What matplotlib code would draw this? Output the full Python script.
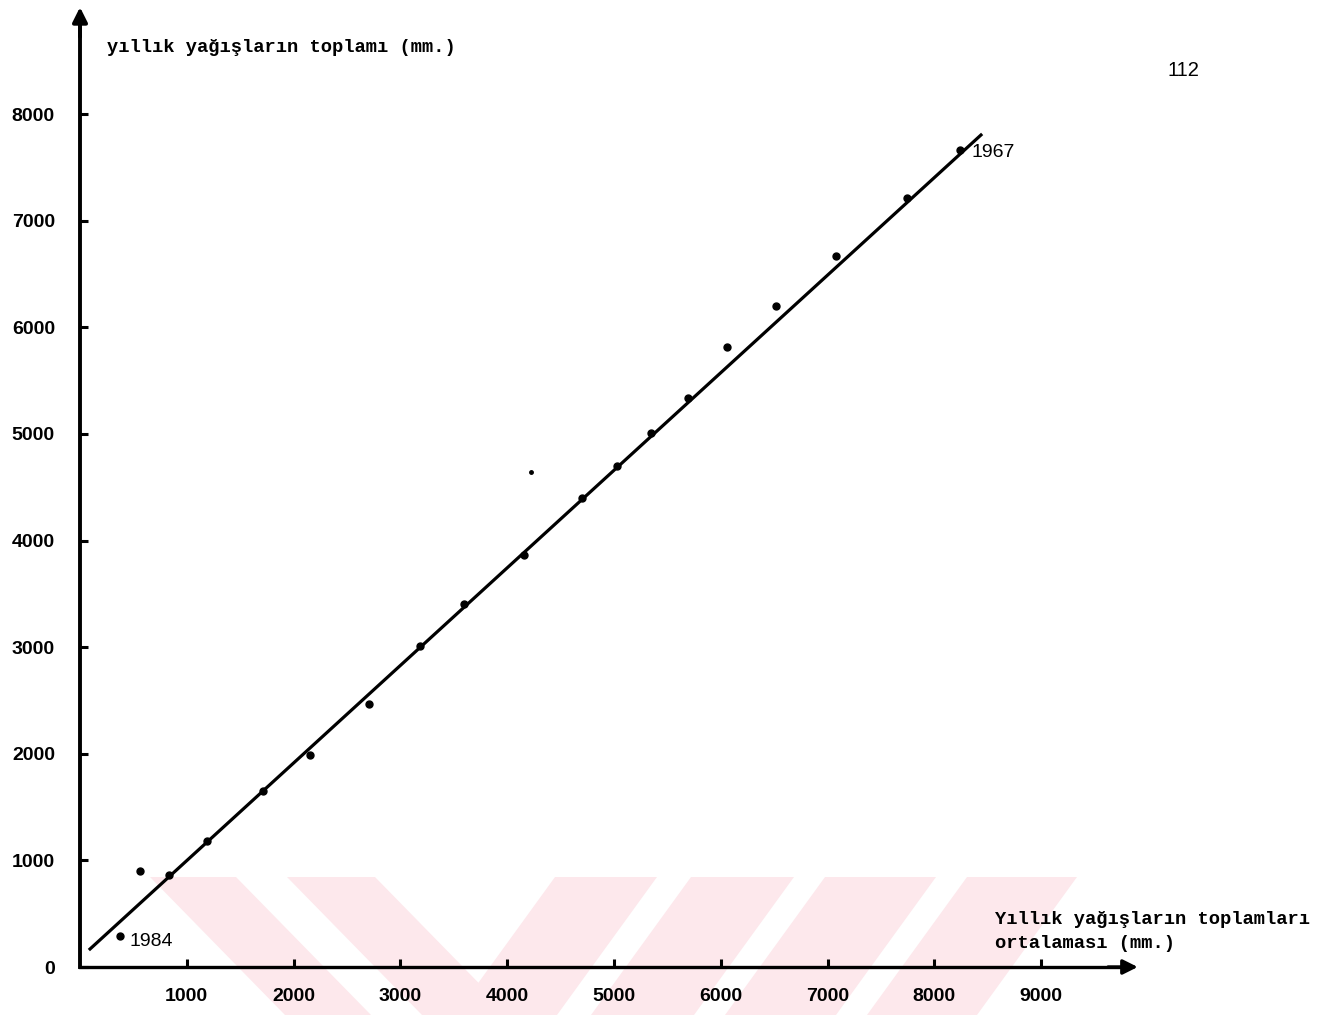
import matplotlib
matplotlib.use('Agg')
import matplotlib.pyplot as plt
from matplotlib.patches import Polygon

# average of annual totals (mm) vs. annual totals (mm)
ortalama = [375, 562, 833, 1189, 1713, 2154, 2706, 3184, 3596, 4157,
            4700, 5028, 5346, 5693, 6058, 6517, 7079, 7743, 8240]
toplam = [291, 901, 863, 1182, 1651, 1989, 2467, 3011, 3405, 3865,
          4400, 4700, 5009, 5338, 5816, 6201, 6670, 7214, 7664]
# small stray dot above the line
stray_x = [4223]
stray_y = [4644]
# fitted straight line (end points)
fit_x = [94, 8436]
fit_y = [169, 7805]
# labelled years
year_labels = ['1984', '1967']
year_idx = [0, -1]

x_ticks = [1000, 2000, 3000, 4000, 5000, 6000, 7000, 8000, 9000]
y_ticks = [0, 1000, 2000, 3000, 4000, 5000, 6000, 7000, 8000]

W, H = 1326, 1015
fig = plt.figure(figsize=(W / 100, H / 100), dpi=100)

# watermark stripes in pixel space (background)
bg = fig.add_axes([0, 0, 1, 1], zorder=0)
bg.set_xlim(0, W)
bg.set_ylim(H, 0)
bg.axis('off')
pink = '#fde8ec'
top, bot = 877, 1015
for a, b in [(150, 236), (287, 375)]:
    sh = 135
    bg.add_patch(Polygon([(a, top), (b, top), (b + sh, bot), (a + sh, bot)],
                         closed=True, color=pink, lw=0))
for a, b in [(555, 657), (691, 794), (825, 936), (967, 1077)]:
    sh = 100
    bg.add_patch(Polygon([(a, top), (b, top), (b - sh, bot), (a - sh, bot)],
                         closed=True, color=pink, lw=0))

# main axes: x=0 at px 80, y=0 at px 967
x0, y0 = 80, 967
px_x, px_y = 0.1068, 0.1066  # pixels per mm
ax = fig.add_axes([x0 / W, (H - y0) / H, (W - x0) / W, y0 / H], zorder=1)
ax.patch.set_alpha(0)
ax.set_xlim(0, (W - x0) / px_x)
ax.set_ylim(0, y0 / px_y)

for s in ['top', 'right']:
    ax.spines[s].set_visible(False)
ax.spines['left'].set_linewidth(2.8)
ax.spines['bottom'].set_linewidth(2.4)
ax.spines['left'].set_bounds(0, 8880)
ax.spines['bottom'].set_bounds(0, 9750)

ax.annotate('', xy=(0, 9030), xytext=(0, 8700),
            arrowprops=dict(arrowstyle='-|>', color='black', lw=2.8, mutation_scale=22),
            annotation_clip=False)
ax.annotate('', xy=(9930, 0), xytext=(9600, 0),
            arrowprops=dict(arrowstyle='-|>', color='black', lw=2.4, mutation_scale=22),
            annotation_clip=False)

ax.set_xticks(x_ticks)
ax.set_xticklabels([str(v) for v in x_ticks])
ax.set_yticks(y_ticks)
ax.set_yticklabels([str(v) for v in y_ticks])
ax.tick_params(axis='both', direction='in', length=6, width=2.2,
               labelsize=14)
ax.tick_params(axis='x', pad=15)
ax.tick_params(axis='y', pad=18)
for lab in ax.get_xticklabels() + ax.get_yticklabels():
    lab.set_fontfamily('Liberation Sans')
    lab.set_fontweight('bold')

ax.plot(fit_x, fit_y, color='black', lw=2.3, zorder=3, clip_on=False)
ax.plot(ortalama, toplam, 'o', color='black', ms=5, zorder=4, clip_on=False)
ax.plot(stray_x, stray_y, 'o', color='black', ms=2.5, zorder=4)

ax.text(ortalama[year_idx[0]] + 90, toplam[year_idx[0]] - 50, year_labels[0],
        fontsize=14, family='Liberation Sans', ha='left', va='center')
ax.text(ortalama[year_idx[1]] + 110, toplam[year_idx[1]] - 20, year_labels[1],
        fontsize=14, family='Liberation Sans', ha='left', va='center')

mono = dict(family='Liberation Mono', fontweight='bold', fontsize=13.5)
fig.text(107 / W, 1 - 47 / H, 'yıllık yağışların toplamı (mm.)',
         ha='left', va='center', **mono)
fig.text(995 / W, 1 - 920 / H, 'Yıllık yağışların toplamları',
         ha='left', va='center', **mono)
fig.text(995 / W, 1 - 943 / H, 'ortalaması (mm.)',
         ha='left', va='center', **mono)

fig.text(1183 / W, 1 - 70 / H, '112', ha='center', va='center',
         fontsize=14.5, family='Liberation Sans')

fig.savefig('out.png', dpi=100)
